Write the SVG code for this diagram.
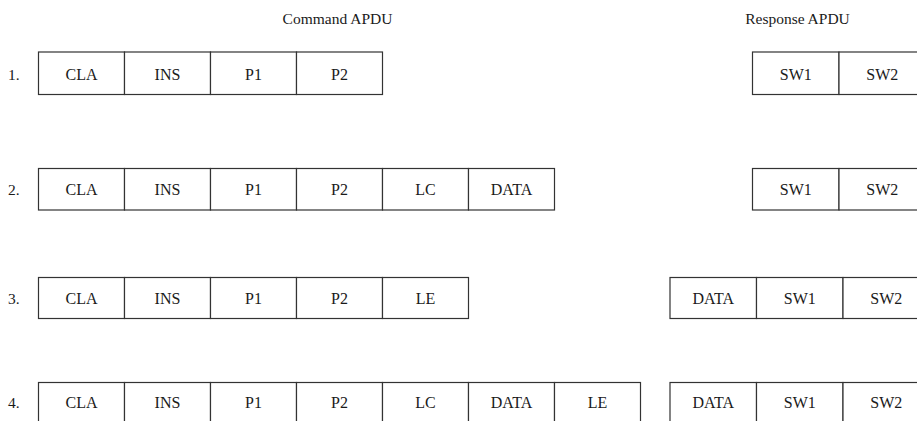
<svg xmlns="http://www.w3.org/2000/svg" width="917" height="421" viewBox="0 0 917 421">
  <style>
    .cell { fill: #ffffff; stroke: #333333; stroke-width: 1.2; }
    text { font-family: "Liberation Serif", "Times New Roman", serif; fill: #1a1a1a; }
    .lbl { font-size: 16px; text-anchor: middle; }
    .num { font-size: 15.5px; }
    .hdr { font-size: 15.5px; text-anchor: middle; }
  </style>
  <rect width="917" height="421" fill="#ffffff"/>

  <!-- column headings -->
  <g id="headings">
    <text class="hdr" x="337.5" y="24">Command APDU</text>
    <text class="hdr" x="797.5" y="24">Response APDU</text>
  </g>

  <!-- case 1: CLA INS P1 P2 / SW1 SW2 -->
  <g id="case1">
    <text class="num" x="8" y="80">1.</text>
    <g id="case1-command">
      <rect class="cell" x="38.5" y="52" width="86" height="42.5"/>
      <rect class="cell" x="124.5" y="52" width="86" height="42.5"/>
      <rect class="cell" x="210.5" y="52" width="86" height="42.5"/>
      <rect class="cell" x="296.5" y="52" width="86" height="42.5"/>
      <text class="lbl" x="81.5" y="80">CLA</text>
      <text class="lbl" x="167.5" y="80">INS</text>
      <text class="lbl" x="253.5" y="80">P1</text>
      <text class="lbl" x="339.5" y="80">P2</text>
    </g>
    <g id="case1-response">
      <rect class="cell" x="752.5" y="52" width="86.5" height="42.5"/>
      <rect class="cell" x="839" y="52" width="86.5" height="42.5"/>
      <text class="lbl" x="795.75" y="80">SW1</text>
      <text class="lbl" x="882.25" y="80">SW2</text>
    </g>
  </g>

  <!-- case 2: CLA INS P1 P2 LC DATA / SW1 SW2 -->
  <g id="case2">
    <text class="num" x="8" y="195">2.</text>
    <g id="case2-command">
      <rect class="cell" x="38.5" y="168.5" width="86" height="41.5"/>
      <rect class="cell" x="124.5" y="168.5" width="86" height="41.5"/>
      <rect class="cell" x="210.5" y="168.5" width="86" height="41.5"/>
      <rect class="cell" x="296.5" y="168.5" width="86" height="41.5"/>
      <rect class="cell" x="382.5" y="168.5" width="86" height="41.5"/>
      <rect class="cell" x="468.5" y="168.5" width="86" height="41.5"/>
      <text class="lbl" x="81.5" y="195">CLA</text>
      <text class="lbl" x="167.5" y="195">INS</text>
      <text class="lbl" x="253.5" y="195">P1</text>
      <text class="lbl" x="339.5" y="195">P2</text>
      <text class="lbl" x="425.5" y="195">LC</text>
      <text class="lbl" x="511.5" y="195">DATA</text>
    </g>
    <g id="case2-response">
      <rect class="cell" x="752.5" y="168.5" width="86.5" height="41.5"/>
      <rect class="cell" x="839" y="168.5" width="86.5" height="41.5"/>
      <text class="lbl" x="795.75" y="195">SW1</text>
      <text class="lbl" x="882.25" y="195">SW2</text>
    </g>
  </g>

  <!-- case 3: CLA INS P1 P2 LE / DATA SW1 SW2 -->
  <g id="case3">
    <text class="num" x="8" y="303.5">3.</text>
    <g id="case3-command">
      <rect class="cell" x="38.5" y="277.5" width="86" height="41"/>
      <rect class="cell" x="124.5" y="277.5" width="86" height="41"/>
      <rect class="cell" x="210.5" y="277.5" width="86" height="41"/>
      <rect class="cell" x="296.5" y="277.5" width="86" height="41"/>
      <rect class="cell" x="382.5" y="277.5" width="86" height="41"/>
      <text class="lbl" x="81.5" y="303.5">CLA</text>
      <text class="lbl" x="167.5" y="303.5">INS</text>
      <text class="lbl" x="253.5" y="303.5">P1</text>
      <text class="lbl" x="339.5" y="303.5">P2</text>
      <text class="lbl" x="425.5" y="303.5">LE</text>
    </g>
    <g id="case3-response">
      <rect class="cell" x="670" y="277.5" width="86.5" height="41"/>
      <rect class="cell" x="756.5" y="277.5" width="86.5" height="41"/>
      <rect class="cell" x="843" y="277.5" width="86.5" height="41"/>
      <text class="lbl" x="713.25" y="303.5">DATA</text>
      <text class="lbl" x="799.75" y="303.5">SW1</text>
      <text class="lbl" x="886.25" y="303.5">SW2</text>
    </g>
  </g>

  <!-- case 4: CLA INS P1 P2 LC DATA LE / DATA SW1 SW2 -->
  <g id="case4">
    <text class="num" x="8" y="407.5">4.</text>
    <g id="case4-command">
      <rect class="cell" x="38.5" y="382.5" width="86" height="41"/>
      <rect class="cell" x="124.5" y="382.5" width="86" height="41"/>
      <rect class="cell" x="210.5" y="382.5" width="86" height="41"/>
      <rect class="cell" x="296.5" y="382.5" width="86" height="41"/>
      <rect class="cell" x="382.5" y="382.5" width="86" height="41"/>
      <rect class="cell" x="468.5" y="382.5" width="86" height="41"/>
      <rect class="cell" x="554.5" y="382.5" width="86" height="41"/>
      <text class="lbl" x="81.5" y="407.5">CLA</text>
      <text class="lbl" x="167.5" y="407.5">INS</text>
      <text class="lbl" x="253.5" y="407.5">P1</text>
      <text class="lbl" x="339.5" y="407.5">P2</text>
      <text class="lbl" x="425.5" y="407.5">LC</text>
      <text class="lbl" x="511.5" y="407.5">DATA</text>
      <text class="lbl" x="597.5" y="407.5">LE</text>
    </g>
    <g id="case4-response">
      <rect class="cell" x="670" y="382.5" width="86.5" height="41"/>
      <rect class="cell" x="756.5" y="382.5" width="86.5" height="41"/>
      <rect class="cell" x="843" y="382.5" width="86.5" height="41"/>
      <text class="lbl" x="713.25" y="407.5">DATA</text>
      <text class="lbl" x="799.75" y="407.5">SW1</text>
      <text class="lbl" x="886.25" y="407.5">SW2</text>
    </g>
  </g>

  <!-- no connectors in this layout -->
  <g id="connectors"/>
</svg>
